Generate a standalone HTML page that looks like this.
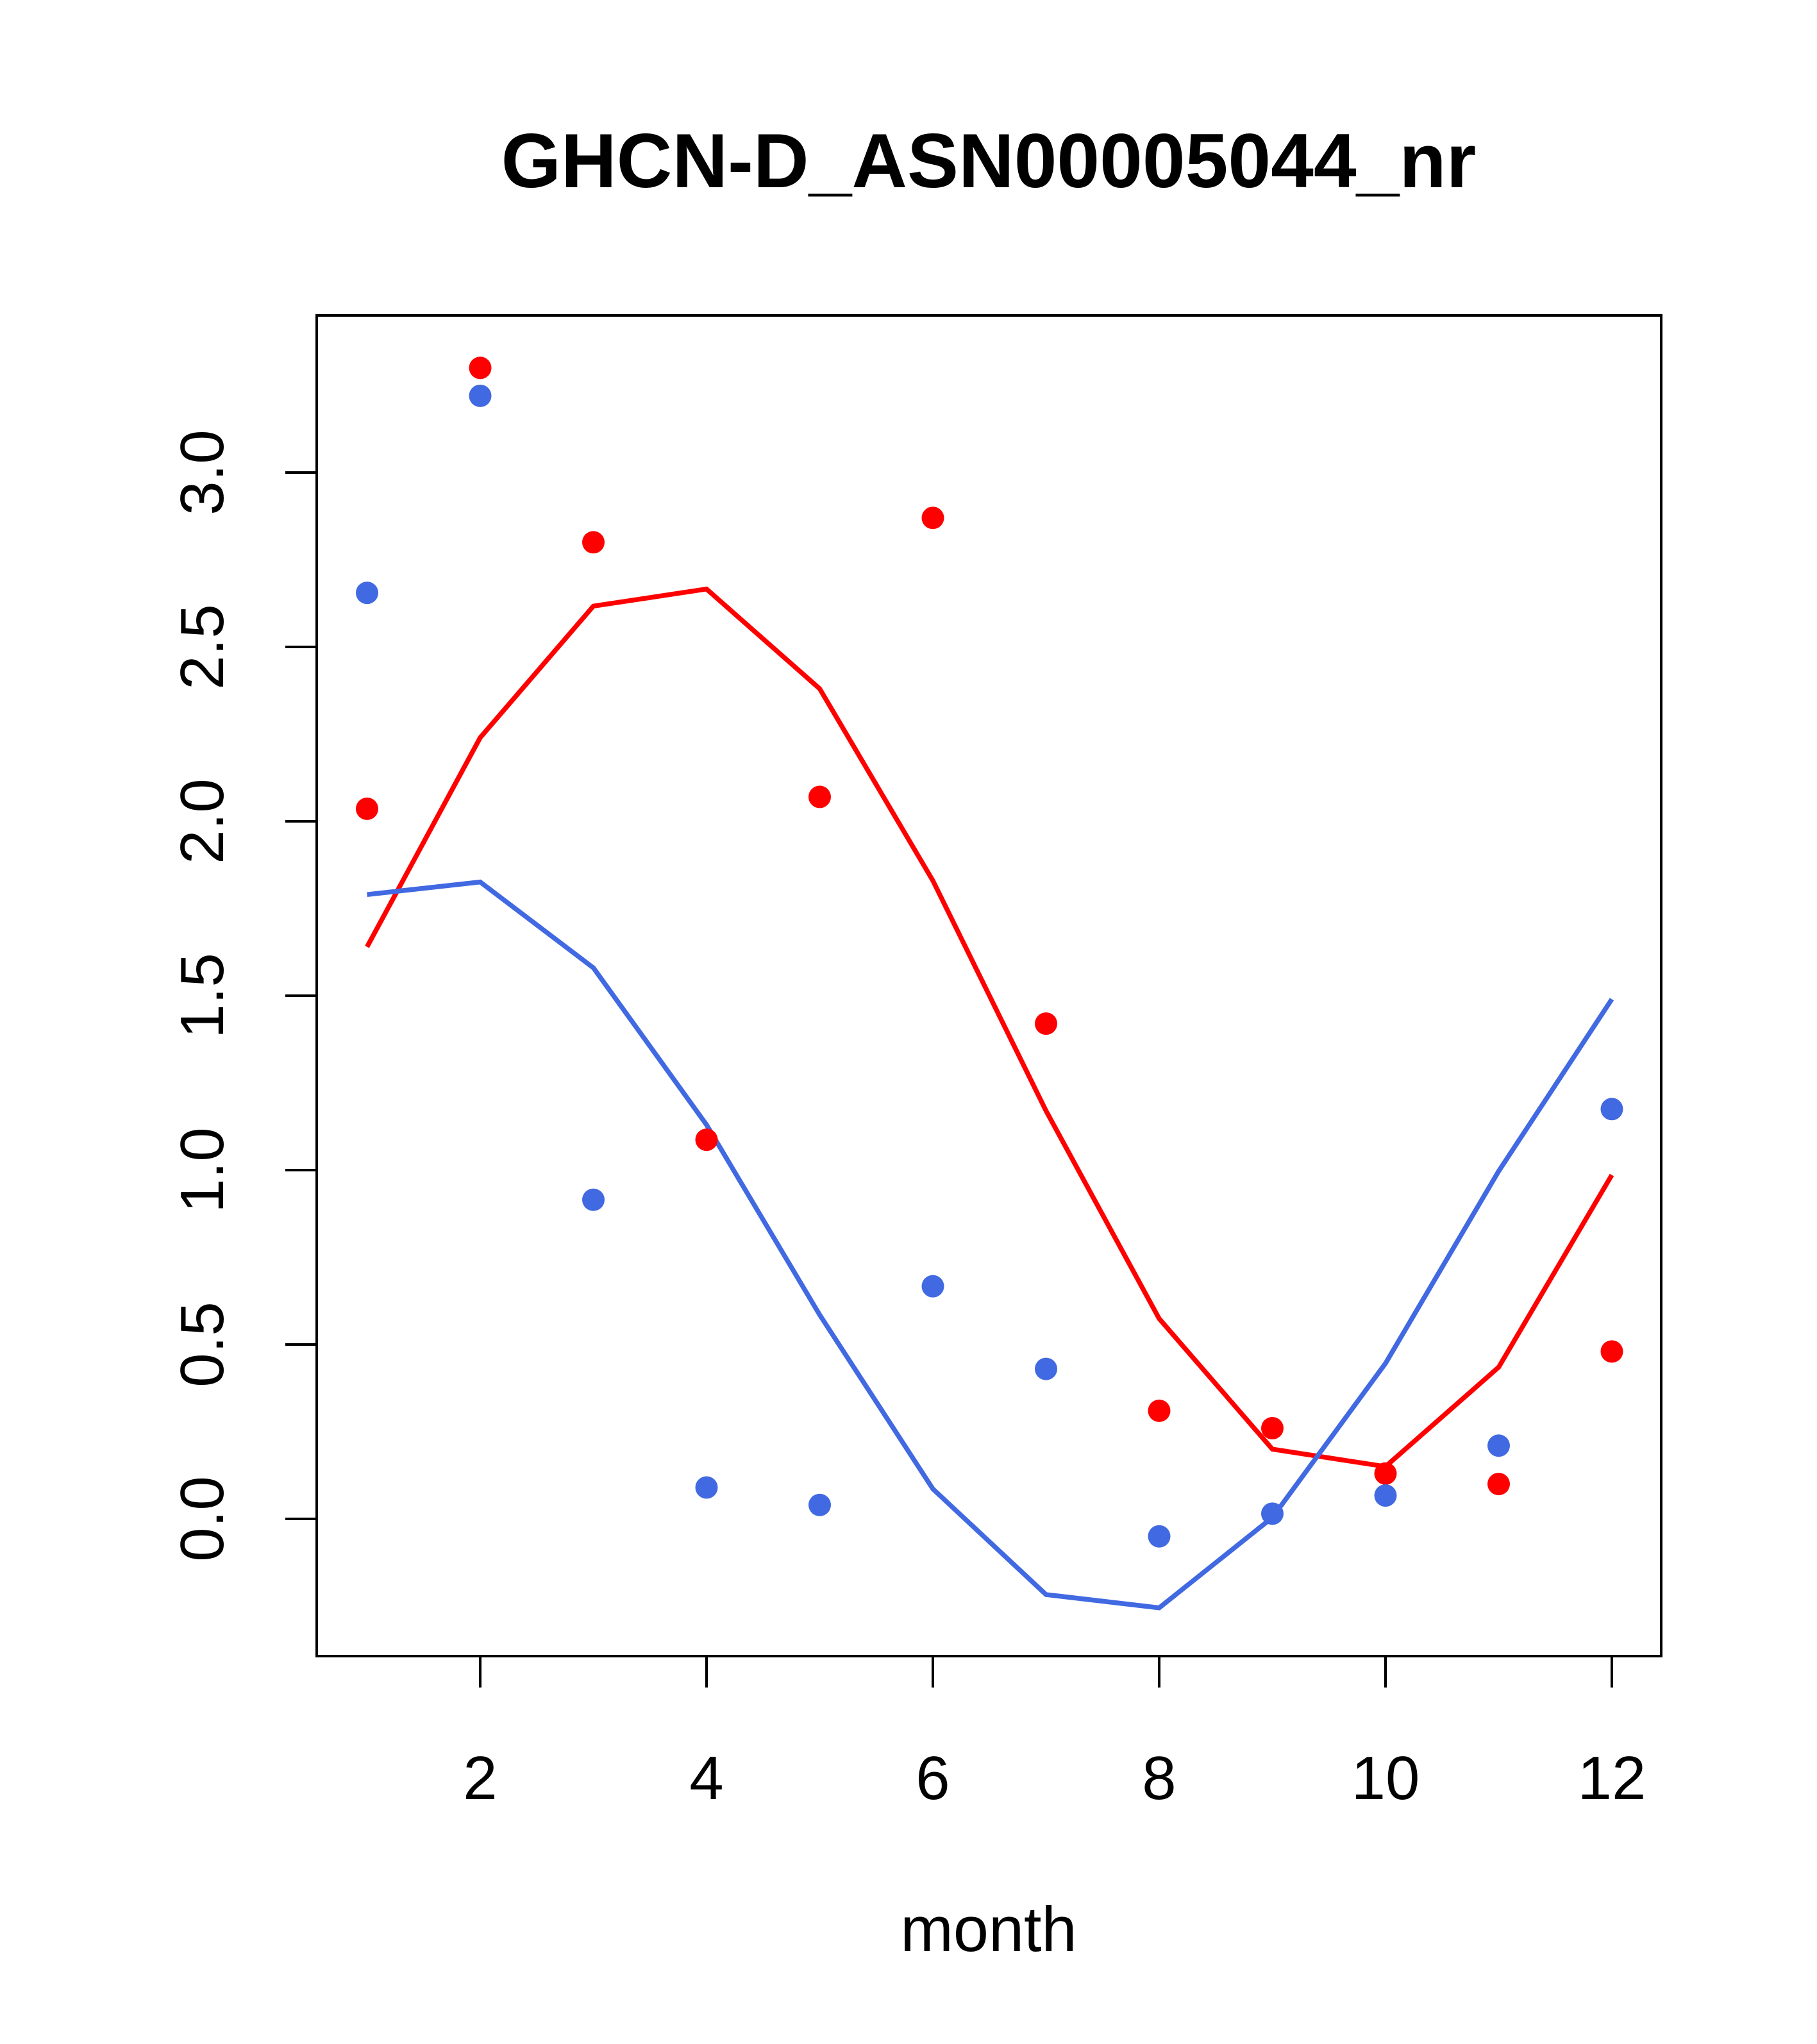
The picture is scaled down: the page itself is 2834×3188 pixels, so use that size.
<!DOCTYPE html>
<html><head><meta charset="utf-8"><style>html,body{margin:0;padding:0;background:#fff}svg{display:block}</style></head>
<body>
<svg id="chart" width="2834" height="3188" xmlns="http://www.w3.org/2000/svg" font-family="'Liberation Sans', sans-serif">
<rect width="2834" height="3188" fill="#fff"/>
<text x="1542" y="292" text-anchor="middle" font-size="120" font-weight="bold">GHCN-D_ASN00005044_nr</text>
<rect x="494" y="492" width="2097" height="2091" fill="none" stroke="#000" stroke-width="4"/>
<text x="1542" y="3043" text-anchor="middle" font-size="99">month</text>
<g id="axes"></g>
<g id="marks"></g>
</svg>
<script>
const months = [1,2,3,4,5,6,7,8,9,10,11,12];
const redPoints = [2.036,3.30,2.80,1.087,2.07,2.87,1.42,0.31,0.26,0.13,0.10,0.48];
const bluePoints = [2.655,3.22,0.915,0.09,0.04,0.667,0.43,-0.05,0.015,0.067,0.21,1.175];
const redLine = [1.64,2.24,2.617,2.666,2.38,1.83,1.17,0.574,0.20,0.15,0.435,0.986];
const blueLine = [1.79,1.826,1.58,1.13,0.585,0.086,-0.217,-0.255,0.004,0.446,0.997,1.49];
const xTicks = [2,4,6,8,10,12];
const yTicks = [0.0,0.5,1.0,1.5,2.0,2.5,3.0];
const yTickLabels = ["0.0","0.5","1.0","1.5","2.0","2.5","3.0"];

const NS = "http://www.w3.org/2000/svg";
const xs = m => 749 + (m - 2) * (2514 - 749) / 10;
const ys = v => 2369 - v * (2369 - 737) / 3;
const axes = document.getElementById('axes');
const marks = document.getElementById('marks');
function mk(tag, attrs, parent) {
  const e = document.createElementNS(NS, tag);
  for (const k in attrs) e.setAttribute(k, attrs[k]);
  parent.appendChild(e);
  return e;
}
const xl = mk('line', {x1: xs(xTicks[0]), x2: xs(xTicks[xTicks.length-1]), y1: 2583, y2: 2583, stroke: '#000', 'stroke-width': 4}, axes);


xTicks.forEach(t => {
  const l = mk('line', {x1: xs(t), x2: xs(t), y1: 2583, y2: 2632, stroke: '#000', 'stroke-width': 4}, axes);
  
  
  const tx = mk('text', {x: xs(t), y: 2806, 'text-anchor': 'middle', 'font-size': 96}, axes);
  tx.textContent = t;
  
  
});
const yl = mk('line', {x1: 494, x2: 494, y1: ys(yTicks[0]), y2: ys(yTicks[yTicks.length-1]), stroke: '#000', 'stroke-width': 4}, axes);


yTicks.forEach((t, i) => {
  const l = mk('line', {x1: 445, x2: 494, y1: ys(t), y2: ys(t), stroke: '#000', 'stroke-width': 4}, axes);
  
  
  const tx = mk('text', {x: 0, y: 0, 'text-anchor': 'middle', 'font-size': 96, transform: `translate(348,${ys(t)}) rotate(-90)`}, axes);
  tx.textContent = yTickLabels[i];
  
  
});
function line(vals, color, name) {
  const p = mk('polyline', {points: vals.map((v, i) => xs(months[i]) + ',' + ys(v)).join(' '), fill: 'none', stroke: color, 'stroke-width': 7.5}, marks);
  
  
}
function pts(vals, color, name) {
  vals.forEach((v, i) => {
    const c = mk('circle', {cx: xs(months[i]), cy: ys(v), r: 17.5, fill: color}, marks);
    
    
  });
}
line(redLine, '#ff0000', 'red-fit-line');
line(blueLine, '#4169e1', 'blue-fit-line');
pts(redPoints, '#ff0000', 'red-point');
pts(bluePoints, '#4169e1', 'blue-point');
</script>
</body></html>
